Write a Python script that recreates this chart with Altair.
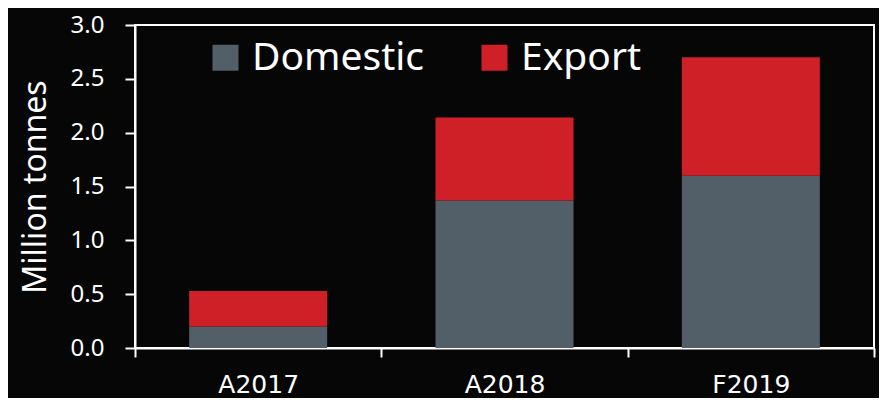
import altair as alt
import pandas as pd

years = ["A2017", "A2018", "F2019"]
domestic = [0.20, 1.37, 1.60]
export = [0.33, 0.77, 1.10]
series = ["Domestic", "Export"]
colors = ["#535f68", "#cf2027"]

rows = []
for i, y in enumerate(years):
    rows.append({"year": y, "type": "Domestic", "value": domestic[i], "ord": 0})
    rows.append({"year": y, "type": "Export", "value": export[i], "ord": 1})
df = pd.DataFrame(rows)

chart = alt.Chart(df).mark_bar(size=138).encode(
    x=alt.X("year:N", sort=years, title=None,
            scale=alt.Scale(paddingInner=0, paddingOuter=0),
            axis=alt.Axis(labelAngle=0, labelFont="DejaVu Sans", labelFontSize=25,
                          labelColor="white", domainColor="white", domainWidth=2,
                          tickColor="white", tickWidth=2, tickSize=9, tickBand="extent",
                          labelPadding=15)),
    y=alt.Y("value:Q", stack="zero", title="Million tonnes",
            scale=alt.Scale(domain=[0, 3.0], nice=False),
            axis=alt.Axis(values=[0, 0.5, 1.0, 1.5, 2.0, 2.5, 3.0], format=".1f",
                          labelFont="Noto Sans", labelFontSize=24, labelColor="white",
                          domainColor="white", domainWidth=2, tickColor="white",
                          tickWidth=2, tickSize=10, labelPadding=21, grid=False,
                          titleFont="Noto Sans", titleFontSize=32, titleFontWeight="normal",
                          titleColor="white", titlePadding=18)),
    color=alt.Color("type:N", scale=alt.Scale(domain=series, range=colors),
                    legend=alt.Legend(title=None, orient="none", legendX=71, legendY=13,
                                      direction="horizontal", symbolType="square",
                                      symbolSize=676, symbolStrokeWidth=0,
                                      symbolOpacity=1,
                                      labelFont="Noto Sans", labelFontSize=39,
                                      labelColor="white", labelOffset=7,
                                      columnPadding=50, padding=0, labelLimit=400)),
    order=alt.Order("ord:Q"),
).properties(
    width=739, height=323,
    background="#060606",
    padding={"left": 127, "top": 17, "right": 5, "bottom": 50},
    autosize=alt.AutoSizeParams(type="none"),
).configure_view(stroke="white", strokeWidth=2)

chart.save("out.html", embed_options={"renderer": "svg", "actions": False})
